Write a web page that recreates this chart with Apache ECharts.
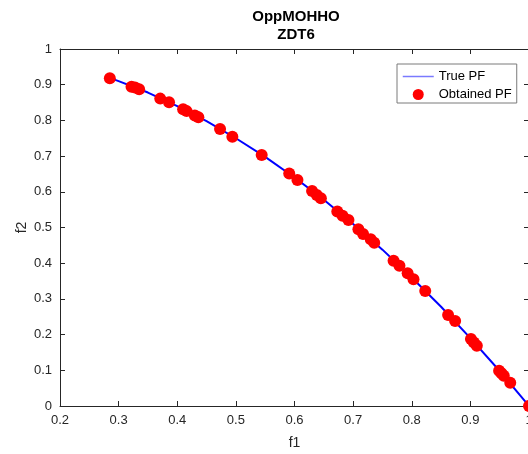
<!DOCTYPE html>
<html>
<head>
<meta charset="utf-8">
<script src="https://cdn.jsdelivr.net/npm/echarts@6/dist/echarts.min.js"></script>
<style>
  html, body { margin: 0; padding: 0; background: #fff; }
  #chart { width: 528px; height: 454px; }
</style>
</head>
<body>
<div id="chart"></div>
<script>
// true front
const trueF1 = [0.28, 0.30, 0.35, 0.40, 0.45, 0.50, 0.55, 0.60, 0.65, 0.70, 0.75, 0.80, 0.85, 0.90, 0.95, 1.00]
const trueF2 = [0.922, 0.910, 0.878, 0.840, 0.798, 0.750, 0.698, 0.640, 0.578, 0.510, 0.438, 0.360, 0.278, 0.190, 0.098, 0.000]

// obtained points (red dots)
const obtF1 = [0.285, 0.322, 0.328, 0.335, 0.371, 0.386, 0.410, 0.416, 0.430, 0.436,
    0.473, 0.494, 0.544, 0.591, 0.605, 0.630, 0.638, 0.645, 0.673, 0.682,
    0.692, 0.709, 0.717, 0.730, 0.736, 0.769, 0.779, 0.793, 0.803, 0.823,
    0.862, 0.874, 0.901, 0.906, 0.911, 0.949, 0.953, 0.957, 0.968, 1.000]
const obtF2 = [0.918, 0.894, 0.892, 0.887, 0.861, 0.851, 0.831, 0.826, 0.814, 0.809,
    0.776, 0.754, 0.703, 0.651, 0.633, 0.602, 0.591, 0.582, 0.545, 0.533,
    0.521, 0.495, 0.482, 0.467, 0.457, 0.407, 0.393, 0.372, 0.355, 0.322,
    0.255, 0.238, 0.188, 0.178, 0.169, 0.099, 0.092, 0.085, 0.065, 0.000]

const font = 'Liberation Sans, Arial, sans-serif'
const axisCol = '#262626'

let chart = echarts.init(document.getElementById('chart'), null, {renderer: 'canvas'})

function baseAxis(pos, min, max, showLabel) {
    return {
        type: 'value',
        position: pos,
        min: min,
        max: max,
        interval: 0.1,
        axisLine: {show: true, onZero: false, lineStyle: {color: axisCol, width: 1}},
        axisTick: {show: true, inside: true, length: 5, lineStyle: {color: axisCol}},
        axisLabel: {
            show: showLabel,
            color: axisCol,
            fontFamily: font,
            fontSize: 13,
            margin: 8,
            hideOverlap: false,
            showMinLabel: true,
            showMaxLabel: true,
            formatter: v => String(+v.toFixed(1))
        },
        splitLine: {show: false}
    }
}

let xBottom = baseAxis('bottom', 0.2, 1, true)
xBottom.name = 'f1'
xBottom.nameLocation = 'middle'
xBottom.nameGap = 30
xBottom.nameMoveOverlap = false
xBottom.nameTextStyle = {color: axisCol, fontFamily: font, fontSize: 14}

let yLeft = baseAxis('left', 0, 1, true)
yLeft.name = 'f2'
yLeft.nameLocation = 'middle'
yLeft.nameGap = 31
yLeft.nameMoveOverlap = false
yLeft.nameTextStyle = {color: axisCol, fontFamily: font, fontSize: 14}

chart.setOption({
    animation: false,
    backgroundColor: '#fff',
    title: {
        text: 'OppMOHHO\nZDT6',
        left: 291,
        textAlign: 'center',
        top: 3,
        textStyle: {
            fontFamily: font,
            fontSize: 15,
            fontWeight: 'bold',
            color: '#000',
            lineHeight: 18
        }
    },
    grid: {left: 60, top: 49, width: 469, height: 357, outerBoundsMode: 'none', containLabel: false},
    legend: {
        show: true,
        orient: 'vertical',
        left: 397,
        top: 64,
        padding: [6, 5, 2, 5],
        itemGap: 5,
        itemWidth: 31,
        itemHeight: 11,
        borderColor: '#7a7a7a',
        borderWidth: 1,
        backgroundColor: '#fff',
        textStyle: {fontFamily: font, fontSize: 13, color: '#000'},
        data: [
            {name: 'True PF', itemStyle: {opacity: 0}, lineStyle: {color: '#7a7aff', width: 1.5, opacity: 1}},
            {name: 'Obtained PF'}
        ]
    },
    xAxis: [xBottom, baseAxis('top', 0.2, 1, false)],
    yAxis: [yLeft, baseAxis('right', 0, 1, false)],
    series: [
        {
            name: 'True PF',
            type: 'line',
            data: trueF1.map((v, i) => [v, trueF2[i]]),
            showSymbol: false,
            symbol: 'none',
            lineStyle: {color: '#0000ff', width: 2},
            itemStyle: {color: '#0000ff'},
            z: 2
        },
        {
            name: 'Obtained PF',
            type: 'scatter',
            data: obtF1.map((v, i) => [v, obtF2[i]]),
            symbol: 'circle',
            symbolSize: 12,
            clip: false,
            itemStyle: {color: '#ff0000', opacity: 1},
            z: 3
        }
    ]
})
</script>
</body>
</html>
